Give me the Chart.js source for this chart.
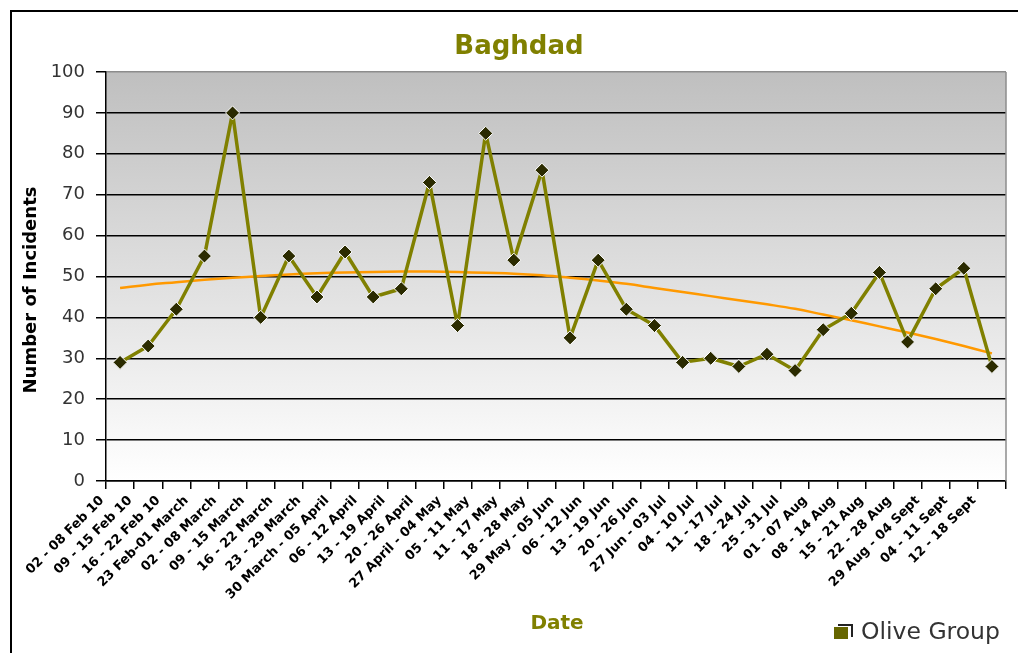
<!DOCTYPE html>
<html><head><meta charset="utf-8">
<script src="https://cdn.jsdelivr.net/npm/chart.js@4.4.1/dist/chart.umd.min.js"></script>
<style>
html,body{margin:0;padding:0;background:#fff;overflow:hidden}
#wrap{position:relative;width:1018px;height:653px}
#frame{position:absolute;left:10px;top:10px;width:1020px;height:660px;border-left:2px solid #000;border-top:2px solid #000;pointer-events:none}
canvas{display:block}
</style></head><body>
<div id="wrap"><canvas id="c" width="1018" height="653"></canvas><div id="frame"></div></div>
<script>
const categories = [
  "02 - 08 Feb 10","09 - 15 Feb 10","16 - 22 Feb 10","23 Feb-01 March","02 - 08 March",
  "09 - 15 March","16 - 22 March","23 - 29 March","30 March - 05 April","06 - 12 April",
  "13 - 19 April","20 - 26 April","27 April - 04 May","05 - 11 May","11 - 17 May",
  "18 - 28 May","29 May - 05 Jun","06 - 12 Jun","13 - 19 Jun","20 - 26 Jun",
  "27 Jun - 03 Jul","04 - 10 Jul","11 - 17 Jul","18 - 24 Jul","25 - 31 Jul",
  "01 - 07 Aug","08 - 14 Aug","15 - 21 Aug","22 - 28 Aug","29 Aug - 04 Sept",
  "04 - 11 Sept","12 - 18 Sept"
];
const incidents = [29,33,42,55,90,40,55,45,56,45,47,73,38,85,54,76,35,54,42,38,29,30,28,31,27,37,41,51,34,47,52,28];
const trendValues = [47.2,48.0,48.6,49.2,49.7,50.1,50.5,50.8,51.0,51.1,51.2,51.2,51.1,50.9,50.7,50.3,49.7,49.0,48.2,47.2,46.2,45.2,44.2,43.2,42.1,40.7,39.3,37.8,36.3,34.7,33.0,31.2];
const yTickValues = [0,10,20,30,40,50,60,70,80,90,100];
const titleText = "Baghdad";
const xTitleText = "Date";
const yTitleText = "Number of Incidents";
const brandText = "Olive Group";

const decor = {
  id: 'decor',
  beforeDraw(chart) {
    const {ctx, chartArea: a} = chart;
    const g = ctx.createLinearGradient(0, a.top, 0, a.bottom);
    g.addColorStop(0, '#bfbfbf');
    g.addColorStop(1, '#ffffff');
    ctx.save();
    ctx.fillStyle = g;
    ctx.fillRect(a.left, a.top, a.right - a.left, a.bottom - a.top);
    ctx.restore();
  },
  afterDraw(chart) {
    const {ctx, chartArea: a} = chart;
    ctx.save();
    ctx.strokeStyle = '#8c8c8c';
    ctx.lineWidth = 1.5;
    ctx.beginPath();
    ctx.moveTo(a.right, a.top);
    ctx.lineTo(a.right, a.bottom);
    ctx.stroke();
    ctx.fillStyle = '#808000';
    ctx.textAlign = 'center';
    ctx.textBaseline = 'middle';
    ctx.font = 'bold 26px "DejaVu Sans"';
    ctx.fillText(titleText, 519, 47);
    ctx.font = 'bold 20px "DejaVu Sans"';
    ctx.fillText(xTitleText, 557, 624);
    ctx.fillStyle = '#000';
    ctx.font = 'bold 18px "DejaVu Sans"';
    ctx.translate(31, 290);
    ctx.rotate(-Math.PI / 2);
    ctx.fillText(yTitleText, 0, 0);
    ctx.restore();
    ctx.save();
    ctx.fillStyle = '#666600';
    ctx.fillRect(834, 627, 14, 12);
    ctx.strokeStyle = '#222';
    ctx.lineWidth = 2;
    ctx.beginPath();
    ctx.moveTo(838, 625);
    ctx.lineTo(852, 625);
    ctx.lineTo(852, 637);
    ctx.stroke();
    ctx.fillStyle = '#333';
    ctx.font = '23.5px "DejaVu Sans"';
    ctx.textAlign = 'left';
    ctx.textBaseline = 'middle';
    ctx.fillText(brandText, 861, 633);
    ctx.restore();
  }
};

new Chart(document.getElementById('c'), {
  type: 'line',
  data: {
    labels: categories,
    datasets: [
      {
        label: 'Incidents',
        data: incidents,
        borderColor: '#808000',
        borderWidth: 3.5,
        borderJoinStyle: 'round',
        pointStyle: 'rectRot',
        pointRadius: 7,
        pointBackgroundColor: '#2b2b00',
        pointBorderColor: '#ffffff',
        pointBorderWidth: 1,
        tension: 0,
        order: 1
      },
      {
        label: 'Trend',
        data: trendValues,
        borderColor: '#ff9900',
        borderWidth: 2.5,
        pointRadius: 0,
        tension: 0.4,
        order: 2
      }
    ]
  },
  options: {
    responsive: false,
    animation: false,
    layout: {padding: {left: 0, top: 72, right: 12, bottom: 42}},
    plugins: {legend: {display: false}, tooltip: {enabled: false}, title: {display: false}},
    scales: {
      x: {
        offset: true,
        grid: {display: true, drawOnChartArea: false, drawTicks: true, tickLength: 8, color: '#000', lineWidth: 1.5, offset: true},
        border: {display: true, color: '#000', width: 1.5},
        ticks: {autoSkip: false, maxRotation: 45, minRotation: 45, padding: 4, labelOffset: -18,
                color: '#000', font: {family: 'DejaVu Sans', weight: 'bold', size: 13}},
        afterFit(s) { s.height = 130; }
      },
      y: {
        min: 0, max: 100,
        afterBuildTicks(s) { s.ticks = yTickValues.map(v => ({value: v})); },
        grid: {color: (c) => c.tick && c.tick.value === 100 ? '#8c8c8c' : '#000', tickColor: '#000', lineWidth: 1.5, tickLength: 10},
        border: {display: true, color: '#000', width: 1.5},
        ticks: {padding: 11, color: '#333', font: {family: 'DejaVu Sans', size: 18}},
        afterFit(s) { s.width = 106; }
      }
    }
  },
  plugins: [decor]
});
</script>
</body></html>
